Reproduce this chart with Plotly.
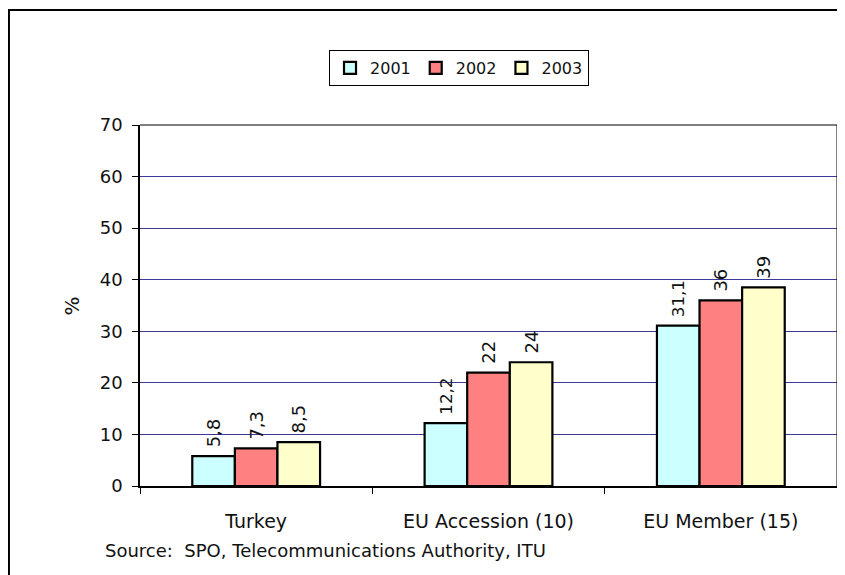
import plotly.graph_objects as go

categories = ["Turkey", "EU Accession (10)", "EU Member (15)"]
years = ["2001", "2002", "2003"]
values_2001 = [5.8, 12.2, 31.1]
values_2002 = [7.3, 22, 36]
values_2003 = [8.5, 24, 38.5]
labels_2001 = ["5,8", "12,2", "31,1"]
labels_2002 = ["7,3", "22", "36"]
labels_2003 = ["8,5", "24", "39"]
colors = ["#CCFFFF", "#FF8080", "#FFFFCC"]
y_ticks = [0, 10, 20, 30, 40, 50, 60, 70]

FONT = "DejaVu Sans"
FS = 18
fig = go.Figure()
for name, vals, labs, col in zip(years, [values_2001, values_2002, values_2003],
                                  [labels_2001, labels_2002, labels_2003], colors):
    fig.add_trace(go.Bar(
        x=categories, y=vals, name=name, text=labs,
        texttemplate=" %{text}",
        textposition="outside", textangle=-90,
        textfont=dict(family=FONT, size=FS, color="#111"),
        marker=dict(color=col, line=dict(color="black", width=2.2)),
        cliponaxis=False,
    ))

fig.update_layout(
    width=845, height=575,
    margin=dict(l=132, r=16, t=117, b=97),
    paper_bgcolor="white", plot_bgcolor="white",
    barmode="group", bargap=0.45, bargroupgap=0,
    font=dict(family=FONT, size=FS, color="#111"),
    showlegend=True,
    legend=dict(orientation="h", x=0.4577, y=1.158, xanchor="center", yanchor="middle",
                bordercolor="black", borderwidth=1, bgcolor="white",
                font=dict(family=FONT, size=16), itemwidth=30, traceorder="normal",
                tracegroupgap=0),
)
fig.update_yaxes(range=[0, 70], tickvals=y_ticks, showgrid=True, gridcolor="#3a3a96",
                 gridwidth=1, showline=True, linecolor="black", linewidth=1.5,
                 ticks="outside", ticklen=6, tickcolor="black", zeroline=False,
                 ticklabelstandoff=6, tickfont=dict(family=FONT, size=FS))
fig.update_xaxes(showline=True, linecolor="black", linewidth=1.5, ticks="outside",
                 tickson="boundaries", ticklen=6, tickcolor="black",
                 ticklabelstandoff=17, tickfont=dict(family=FONT, size=19))

# top and right plot borders
fig.add_shape(type="line", xref="paper", yref="paper", x0=0, x1=1, y0=1, y1=1,
              line=dict(color="black", width=1))
fig.add_shape(type="line", xref="paper", yref="paper", x0=1, x1=1, y0=0, y1=1,
              line=dict(color="black", width=1))
# outer frame
fig.add_shape(type="rect", xref="paper", yref="paper", x0=-0.188, x1=1.05,
              y0=-0.3, y1=1.3186, line=dict(color="black", width=2), layer="below")

fig.add_annotation(text="%", xref="paper", yref="paper", x=-0.0976, y=0.5,
                   textangle=-90, showarrow=False, xanchor="center", yanchor="middle",
                   font=dict(family=FONT, size=FS + 2, color="#111"))
fig.add_annotation(text="Source:  SPO, Telecommunications Authority, ITU",
                   xref="paper", yref="paper", x=-0.053, y=-0.18,
                   xanchor="left", yanchor="middle", showarrow=False,
                   font=dict(family=FONT, size=FS, color="#111"))

fig.write_html("out.html")
